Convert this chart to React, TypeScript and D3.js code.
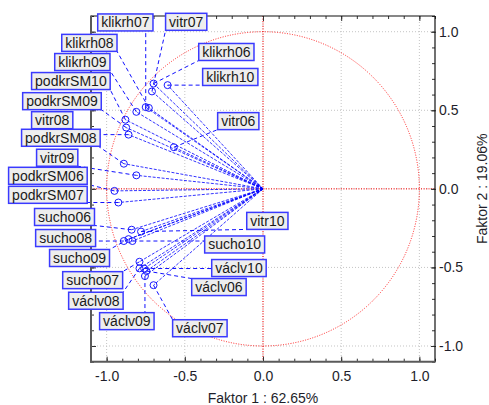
import { useEffect, useRef } from "react";
import * as d3 from "d3";

// variable names and their loadings on the two factors
const variables = [
  "klikrh06", "vitr07", "klikrh10", "klikrh07", "klikrh08", "klikrh09",
  "podkrSM10", "podkrSM09", "podkrSM08", "vitr06", "vitr08", "vitr09",
  "podkrSM06", "podkrSM07", "sucho06", "vitr10", "sucho08", "sucho09",
  "sucho10", "sucho07", "václv08", "václv10", "václv06", "václv09", "václv07",
];
const factor1 = [
  -0.70, -0.71, -0.61, -0.75, -0.73, -0.81,
  -0.88, -0.875, -0.86, -0.57, -0.89, -0.81,
  -0.95, -0.925, -0.84, -0.78, -0.89, -0.86,
  -0.835, -0.79, -0.79, -0.76, -0.745, -0.755, -0.70,
];
const factor2 = [
  0.67, 0.62, 0.66, 0.52, 0.515, 0.49,
  0.44, 0.39, 0.345, 0.265, 0.16, 0.086,
  -0.013, -0.087, -0.26, -0.272, -0.332, -0.32,
  -0.332, -0.464, -0.506, -0.507, -0.523, -0.555, -0.613,
];
// where each label box sits (left edge, vertical centre), in factor units
const labelX = [
  -0.411, -0.623, -0.386, -1.057, -1.287, -1.332,
  -1.48, -1.537, -1.544, -0.29, -1.48, -1.448,
  -1.627, -1.627, -1.461, -0.104, -1.454, -1.365,
  -0.373, -1.281, -1.243, -0.328, -0.456, -1.045, -0.578,
];
const labelY = [
  0.871, 1.063, 0.712, 1.059, 0.929, 0.807,
  0.686, 0.558, 0.325, 0.431, 0.437, 0.198,
  0.083, -0.038, -0.179, -0.204, -0.313, -0.44,
  -0.354, -0.581, -0.712, -0.504, -0.625, -0.842, -0.887,
];
const majorTicks = [-1.0, -0.5, 0.0, 0.5, 1.0];
const minorTicks = d3.range(-11, 12).map((d) => d / 10);
const xTitle = "Faktor 1 : 62.65%";
const yTitle = "Faktor 2 : 19.06%";

const FONT = "'Liberation Sans', Arial, sans-serif";

const App = () => {
  const ref = useRef<SVGSVGElement | null>(null);

  useEffect(() => {
    const svg = d3.select(ref.current);
    svg.selectAll("*").remove();

    const left = 91, right = 435, top = 16, bottom = 361.7;
    const x = d3.scaleLinear().domain([-1.1, 1.1]).range([left, right]);
    const y = d3.scaleLinear().domain([-1.1, 1.1]).range([bottom, top]);
    const fmt = (d: number) => d.toFixed(1);

    // layers, bottom to top (label boxes sit over the frame)
    const gridG = svg.append("g");
    const redG = svg.append("g");
    const vecG = svg.append("g");
    const leadG = svg.append("g");
    const markG = svg.append("g");
    const axisG = svg.append("g");
    const boxG = svg.append("g");
    const textG = svg.append("g").attr("font-family", FONT).attr("font-size", 14);

    // light grey dotted grid
    gridG.attr("stroke", "#c4c4c4").attr("stroke-dasharray", "1,2");
    majorTicks.forEach((t) => {
      gridG.append("line").attr("x1", x(t)).attr("x2", x(t)).attr("y1", top).attr("y2", bottom);
      gridG.append("line").attr("x1", left).attr("x2", right).attr("y1", y(t)).attr("y2", y(t));
    });

    // red unit circle and zero lines
    redG.attr("stroke", "#ff0000").attr("fill", "none").attr("stroke-dasharray", "1,1.5");
    redG.append("ellipse").attr("cx", x(0)).attr("cy", y(0))
      .attr("rx", x(1) - x(0)).attr("ry", y(0) - y(1)).attr("opacity", 0.85);
    redG.append("line").attr("x1", x(0)).attr("x2", x(0)).attr("y1", top).attr("y2", bottom);
    redG.append("line").attr("x1", left).attr("x2", right).attr("y1", y(0)).attr("y2", y(0));

    const pts = variables.map((name, i) => ({
      name, px: x(factor1[i]), py: y(factor2[i]), lx: x(labelX[i]), ly: y(labelY[i]),
    }));

    // vectors from origin
    vecG.selectAll("line").data(pts).enter().append("line")
      .attr("x1", x(0)).attr("y1", y(0))
      .attr("x2", (d) => d.px).attr("y2", (d) => d.py)
      .attr("stroke", "#0000ff").attr("stroke-opacity", 0.8)
      .attr("stroke-width", 1).attr("stroke-dasharray", "3,1.5");

    // label texts, measured to size their boxes
    const texts = textG.selectAll("text").data(pts).enter().append("text")
      .attr("x", (d) => d.lx + 3.5).attr("y", (d) => d.ly + 5)
      .attr("fill", "#1a1a1a").text((d) => d.name);
    const boxes = pts.map((d, i) => {
      const w = (texts.nodes()[i] as SVGTextElement).getComputedTextLength() + 7;
      return { x: d.lx, y: d.ly - 8.5, w, h: 17 };
    });

    boxG.selectAll("rect").data(boxes).enter().append("rect")
      .attr("x", (d) => d.x).attr("y", (d) => d.y)
      .attr("width", (d) => d.w).attr("height", (d) => d.h)
      .attr("fill", "#eeeeee").attr("stroke", "#3a3aff").attr("stroke-width", 1.5);

    // dashed leaders from each point to the nearest spot on its box
    pts.forEach((d, i) => {
      const b = boxes[i];
      const cx = Math.max(b.x, Math.min(b.x + b.w, d.px));
      const cy = Math.max(b.y, Math.min(b.y + b.h, d.py));
      leadG.append("line").attr("x1", d.px).attr("y1", d.py).attr("x2", cx).attr("y2", cy)
        .attr("stroke", "#1010ff").attr("stroke-width", 1).attr("stroke-dasharray", "4,3");
    });

    // open circle markers
    markG.selectAll("circle").data(pts).enter().append("circle")
      .attr("cx", (d) => d.px).attr("cy", (d) => d.py).attr("r", 3.5)
      .attr("fill", "none").attr("stroke", "#1a1aff").attr("stroke-width", 1);

    // axes
    const styleAxis = (g: any) => {
      g.select(".domain").remove();
      g.selectAll("line").attr("stroke", "#333");
      g.selectAll("text").attr("font-family", FONT).attr("font-size", 14).attr("fill", "#1e1e2a");
    };
    const blank = () => "";
    axisG.append("g").attr("transform", `translate(0,${bottom})`)
      .call(d3.axisBottom(x).tickValues(majorTicks).tickSize(-5).tickPadding(9).tickFormat(fmt as any))
      .call(styleAxis);
    axisG.append("g").attr("transform", `translate(0,${bottom})`)
      .call(d3.axisBottom(x).tickValues(minorTicks).tickSize(-3).tickFormat(blank))
      .call(styleAxis);
    axisG.append("g").attr("transform", `translate(0,${top})`)
      .call(d3.axisTop(x).tickValues(majorTicks).tickSize(-5).tickFormat(blank))
      .call(styleAxis);
    axisG.append("g").attr("transform", `translate(0,${top})`)
      .call(d3.axisTop(x).tickValues(minorTicks).tickSize(-3).tickFormat(blank))
      .call(styleAxis);
    axisG.append("g").attr("transform", `translate(${left},0)`)
      .call(d3.axisLeft(y).tickValues(majorTicks).tickSize(-5).tickFormat(blank))
      .call(styleAxis);
    axisG.append("g").attr("transform", `translate(${left},0)`)
      .call(d3.axisLeft(y).tickValues(minorTicks).tickSize(-3).tickFormat(blank))
      .call(styleAxis);
    axisG.append("g").attr("transform", `translate(${right - 4},0)`)
      .call(d3.axisRight(y).tickValues(majorTicks).tickSize(5).tickPadding(3).tickFormat(fmt as any))
      .call(styleAxis);
    axisG.append("g").attr("transform", `translate(${right},0)`)
      .call(d3.axisRight(y).tickValues(minorTicks).tickSize(-3).tickFormat(blank))
      .call(styleAxis);

    // frame: dark grey left/bottom, thin black top/right
    axisG.append("line").attr("x1", left).attr("x2", right).attr("y1", top).attr("y2", top)
      .attr("stroke", "#111").attr("stroke-width", 1.2);
    axisG.append("line").attr("x1", right).attr("x2", right).attr("y1", top).attr("y2", bottom)
      .attr("stroke", "#111").attr("stroke-width", 1.2);
    axisG.append("line").attr("x1", left).attr("x2", left).attr("y1", top - 0.6).attr("y2", bottom + 1)
      .attr("stroke", "#5a5a5a").attr("stroke-width", 2);
    axisG.append("line").attr("x1", left - 1).attr("x2", right + 0.6).attr("y1", bottom).attr("y2", bottom)
      .attr("stroke", "#5a5a5a").attr("stroke-width", 2);

    // axis titles
    axisG.append("text").attr("x", x(0)).attr("y", 403).attr("text-anchor", "middle")
      .attr("font-family", FONT).attr("font-size", 14).attr("fill", "#1e1e2a").text(xTitle);
    axisG.append("text").attr("transform", `translate(487,${y(0)}) rotate(-90)`)
      .attr("text-anchor", "middle")
      .attr("font-family", FONT).attr("font-size", 14).attr("fill", "#1e1e2a").text(yTitle);
  }, []);

  return (
    <svg
      ref={ref}
      width={489}
      height={405}
      style={{ position: "absolute", left: 0, top: 0, background: "#fff" }}
    />
  );
};

export default App;
